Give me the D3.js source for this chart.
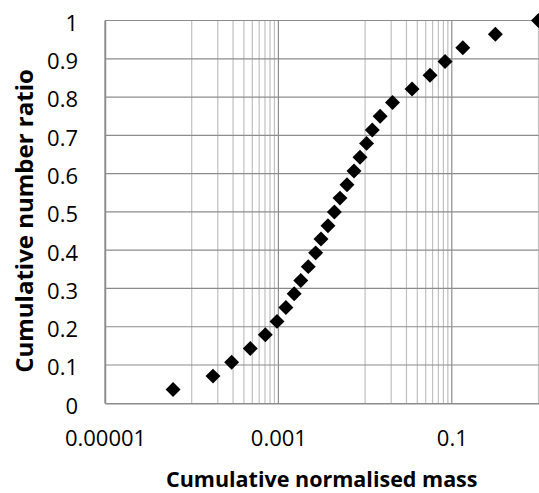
<!DOCTYPE html>
<html>
<head>
<meta charset="utf-8">
<script src="https://cdn.jsdelivr.net/npm/d3@7"></script>
<style>
  html, body { margin: 0; padding: 0; background: #fff; }
  svg { display: block; font-family: "Open Sans", sans-serif; }
</style>
</head>
<body>
<svg id="chart"></svg>
<script>
// values
const massValues = [6.1e-5, 1.76e-4, 2.89e-4, 4.74e-4, 7.06e-4, 9.64e-4, 1.22e-3, 1.52e-3,
    1.81e-3, 2.21e-3, 2.69e-3, 3.10e-3, 3.73e-3, 4.42e-3, 5.13e-3, 6.18e-3, 7.45e-3, 8.73e-3,
    0.0104, 0.0121, 0.0149, 0.0207, 0.0348, 0.0561, 0.0836, 0.134, 0.318, 1.0]
const ratioValues = [0.036, 0.071, 0.107, 0.143, 0.179, 0.214, 0.25, 0.286, 0.321, 0.357,
    0.393, 0.429, 0.464, 0.5, 0.536, 0.571, 0.607, 0.643, 0.679, 0.714, 0.75, 0.786,
    0.821, 0.857, 0.893, 0.929, 0.964, 1.0]

const xTicks = [1e-5, 1e-3, 0.1]
const xTickLabels = ["0.00001", "0.001", "0.1"]
const xMajorGrid = [1e-5, 1e-3, 0.1, 1]
const xMinorGrid = [1e-4, 2e-4, 3e-4, 4e-4, 5e-4, 6e-4, 7e-4, 8e-4, 9e-4,
    0.01, 0.02, 0.03, 0.04, 0.05, 0.06, 0.07, 0.08, 0.09]
const yTicks = [0, 0.1, 0.2, 0.3, 0.4, 0.5, 0.6, 0.7, 0.8, 0.9, 1]
const yTickLabels = ["0", "0.1", "0.2", "0.3", "0.4", "0.5", "0.6", "0.7", "0.8", "0.9", "1"]

const width = 539, height = 493
const margin = { top: 20.5, right: 0.5, bottom: 89.7, left: 105 }
const innerW = width - margin.left - margin.right
const innerH = height - margin.top - margin.bottom

const svg = d3.select('#chart')
    .attr('width', width)
    .attr('height', height)

const chart = svg.append('g')
    .attr('transform', `translate(${margin.left}, ${margin.top})`)

const x = d3.scaleLog()
    .domain([1e-5, 1])
    .range([0, innerW])

const y = d3.scaleLinear()
    .domain([0, 1])
    .range([innerH, 0])

// minor vertical gridlines
chart.append('g')
    .selectAll('line')
    .data(xMinorGrid)
    .enter()
    .append('line')
    .attr('x1', d => x(d)).attr('x2', d => x(d))
    .attr('y1', 0).attr('y2', innerH)
    .attr('stroke', '#c0c0c0')
    .attr('stroke-width', 1.2)

// major vertical gridlines
chart.append('g')
    .selectAll('line')
    .data(xMajorGrid)
    .enter()
    .append('line')
    .attr('x1', d => x(d)).attr('x2', d => x(d))
    .attr('y1', 0).attr('y2', innerH)
    .attr('stroke', d => d === 1 ? '#c0c0c0' : '#8c8c8c')
    .attr('stroke-width', 1.2)

// horizontal gridlines
chart.append('g')
    .selectAll('line')
    .data(yTicks.slice(1))
    .enter()
    .append('line')
    .attr('x1', 0).attr('x2', innerW)
    .attr('y1', d => y(d)).attr('y2', d => y(d))
    .attr('stroke', '#8c8c8c')
    .attr('stroke-width', 1.2)

// axes
const yAxis = chart.append('g')
    .attr('class', 'axis y')
    .call(d3.axisLeft(y).tickValues(yTicks).tickFormat((d, i) => yTickLabels[i])
        .tickSize(0).tickPadding(27).tickSizeOuter(0))

const xAxis = chart.append('g')
    .attr('class', 'axis x')
    .attr('transform', `translate(0, ${innerH})`)
    .call(d3.axisBottom(x).tickValues(xTicks).tickFormat((d, i) => xTickLabels[i])
        .tickSize(0).tickPadding(27).tickSizeOuter(0))

chart.selectAll('.axis .domain')
    .attr('stroke', '#8c8c8c')
    .attr('stroke-width', 1.5)

chart.selectAll('.axis text')
    .attr('font-family', '"Open Sans", sans-serif')
    .attr('font-size', 22)
    .attr('fill', '#000')

yAxis.selectAll('text').attr('dy', '0.45em')

// points
chart.append('g')
    .selectAll('path')
    .data(massValues)
    .enter()
    .append('path')
    .attr('d', d3.symbol().type(d3.symbolSquare).size(112))
    .attr('transform', (d, i) => `translate(${x(d)}, ${y(ratioValues[i])}) rotate(45)`)
    .attr('fill', '#000')

// axis titles
svg.append('text')
    .attr('x', margin.left + innerW / 2)
    .attr('y', 487)
    .attr('text-anchor', 'middle')
    .attr('font-size', 21.5)
    .attr('font-weight', 'bold')
    .text('Cumulative normalised mass')

svg.append('text')
    .attr('transform', 'translate(33, 221) rotate(-90)')
    .attr('text-anchor', 'middle')
    .attr('font-size', 24)
    .attr('font-weight', 'bold')
    .text('Cumulative number ratio')
</script>
</body>
</html>
